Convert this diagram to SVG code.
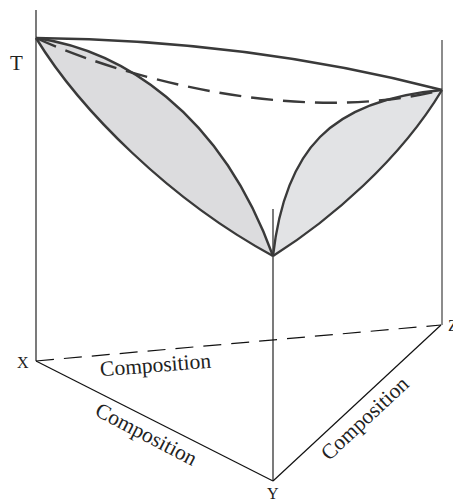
<svg xmlns="http://www.w3.org/2000/svg" width="453" height="499" viewBox="0 0 453 499">
<style>
.axis{stroke:#333;stroke-width:1.3;fill:none}
.base{stroke:#111;stroke-width:1.2;fill:none}
.bdash{stroke:#111;stroke-width:1.2;fill:none;stroke-dasharray:18 10}
.curve{stroke:#3a3a3a;stroke-width:2.4;fill:none;stroke-linejoin:round}
.dash{stroke:#3a3a3a;stroke-width:2.4;fill:none;stroke-dasharray:22 10}
.lab{font-family:"Liberation Serif","Times New Roman",serif;fill:#222}
</style>
<rect width="453" height="499" fill="#fff"/>
<g id="connectors">
<line class="axis" x1="36" y1="10" x2="36" y2="361"/>
<line class="axis" x1="273" y1="209" x2="273" y2="481"/>
<line class="axis" x1="442" y1="40" x2="442" y2="325" style="stroke:#666;stroke-width:1.5"/>
<line class="bdash" x1="36" y1="361" x2="441" y2="325"/>
<line class="base" x1="36" y1="361" x2="273" y2="481"/>
<line class="base" x1="273" y1="481" x2="441" y2="325"/>
</g>
<g id="lens-xy">
<path d="M36,38 C120,50 220,110 273,256 C170,200 80,110 36,38 Z" fill="#dcdcde" stroke="none"/>
<path class="curve" d="M36,38 C120,50 220,110 273,256"/>
<path class="curve" d="M36,38 C80,110 170,200 273,256"/>
</g>
<g id="lens-yz">
<path d="M273,256 C285,150 330,100 442,90 C400,160 330,220 273,256 Z" fill="#e2e3e5" stroke="none"/>
<path class="curve" d="M273,256 C285,150 330,100 442,90"/>
<path class="curve" d="M273,256 C330,220 400,160 442,90"/>
</g>
<g id="liquidus-xz">
<path class="curve" d="M36,38 Q250,40 442,90"/>
</g>
<g id="ternary-dashed">
<path class="dash" d="M36,38 C110,72 290,128 442,90"/>
</g>
<g id="labels">
<text class="lab" x="10" y="70" font-size="21">T</text>
<text class="lab" x="17" y="368" font-size="16">X</text>
<text class="lab" x="267" y="499" font-size="16">Y</text>
<text class="lab" x="448" y="331" font-size="16">Z</text>
<text class="lab" font-size="21.5" text-anchor="middle" transform="translate(156,372) rotate(-4.5)">Composition</text>
<text class="lab" font-size="21.5" text-anchor="middle" transform="translate(143,440.5) rotate(27.5)">Composition</text>
<text class="lab" font-size="21.5" text-anchor="middle" transform="translate(369.5,423.5) rotate(-43)">Composition</text>
</g>
</svg>
